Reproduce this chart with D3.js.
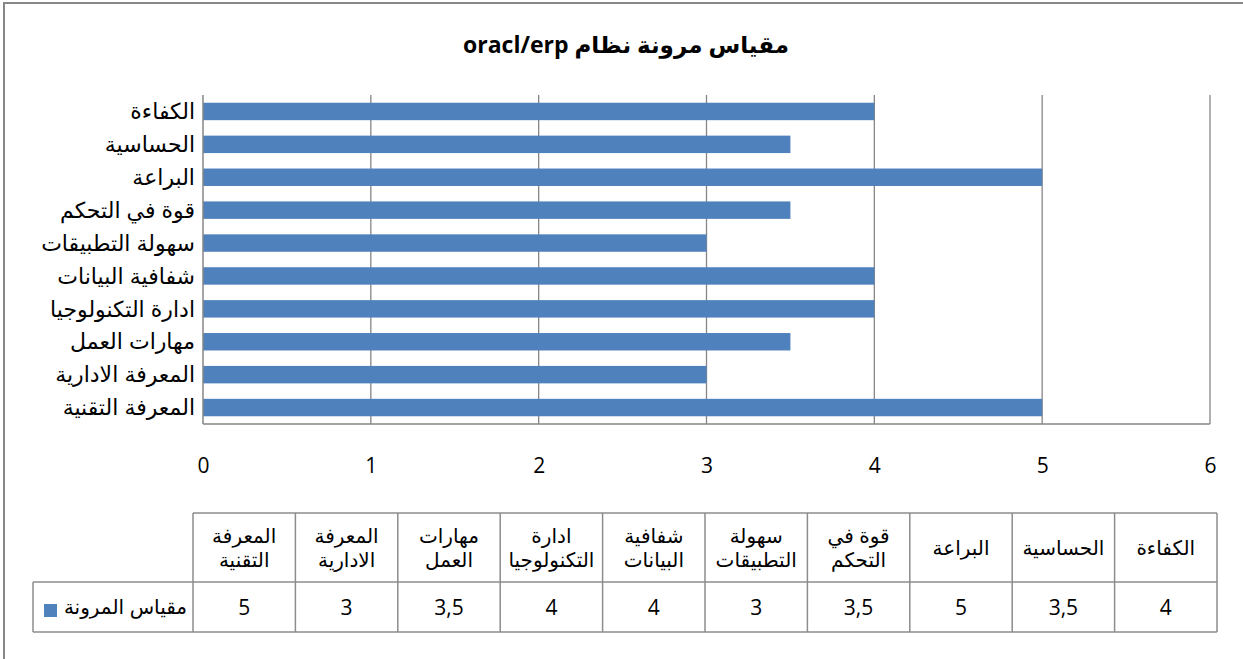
<!DOCTYPE html>
<html><head><meta charset="utf-8">
<script src="https://cdn.jsdelivr.net/npm/d3@7"></script>
<style>body{margin:0;background:#fff}svg{display:block}</style>
</head><body><svg id="c" width="1243" height="659"></svg>
<script>
const title = "مقياس مرونة نظام oracl/erp";
const seriesName = "مقياس المرونة";
const categories = ["المعرفة التقنية","المعرفة الادارية","مهارات العمل","ادارة التكنولوجيا","شفافية البيانات","سهولة التطبيقات","قوة في التحكم","البراعة","الحساسية","الكفاءة"];
const values = [5,3,3.5,4,4,3,3.5,5,3.5,4];
const xTicks = [0,1,2,3,4,5,6];

const svg = d3.select("#c");
const barColor = "#4F81BD", gridColor = "#868686";
const fontLat = "'Liberation Sans', Arial, 'DejaVu Sans', sans-serif";
const fontNum = "'Open Sans', 'Liberation Sans', 'DejaVu Sans', sans-serif";

// outer frame
svg.append("rect").attr("x",4).attr("y",3).attr("width",1260).attr("height",680)
  .attr("fill","#fff").attr("stroke","#888").attr("stroke-width",2);

svg.append("text").attr("x",626).attr("y",53).attr("text-anchor","middle")
  .attr("direction","rtl").attr("font-family",fontNum).attr("font-weight","bold")
  .attr("font-size",23).attr("fill","#000").text(title);

const plot = {l:203, r:1210, t:95, b:424};
const x = d3.scaleLinear().domain([0,6]).range([plot.l, plot.r]);
const yCats = categories.slice().reverse();
const y = d3.scaleBand().domain(yCats).range([plot.t, plot.b]).paddingInner(0.47).paddingOuter(0.235);

// gridlines
svg.append("g").selectAll("line").data(xTicks.slice(1)).join("line")
  .attr("x1",d=>x(d)).attr("x2",d=>x(d)).attr("y1",plot.t).attr("y2",plot.b)
  .attr("stroke",gridColor).attr("stroke-width",1.3);

// bars
svg.append("g").selectAll("rect").data(categories).join("rect")
  .attr("x",x(0)).attr("y",d=>y(d)).attr("height",y.bandwidth())
  .attr("width",(d,i)=>x(values[i])-x(0)).attr("fill",barColor);

// axes lines
svg.append("line").attr("x1",plot.l).attr("x2",plot.l).attr("y1",plot.t).attr("y2",plot.b)
  .attr("stroke",gridColor).attr("stroke-width",1.5);
svg.append("line").attr("x1",plot.l).attr("x2",plot.r).attr("y1",plot.b).attr("y2",plot.b)
  .attr("stroke",gridColor).attr("stroke-width",1.5);

// y labels
svg.append("g").selectAll("text").data(yCats).join("text")
  .attr("x",195).attr("y",d=>y(d)+y.bandwidth()/2).attr("dy","0.35em")
  .attr("text-anchor","end").attr("font-family",fontLat).attr("font-size",22).attr("fill","#000")
  .text(d=>d);

// x tick labels
const xAxis = d3.axisBottom(x).tickValues(xTicks).tickSize(0).tickPadding(0).tickFormat(d3.format("d"));
const gx = svg.append("g").attr("transform",`translate(0,${plot.b+34})`).call(xAxis);
gx.select(".domain").remove();
gx.selectAll("text").attr("font-family",fontNum).attr("font-size",21).attr("fill","#000");

// data table
const tbl = {l:193, r:1217, t:513, m:582, b:632, legL:33};
const col = d3.scaleBand().domain(categories).range([tbl.l, tbl.r]);
const tg = svg.append("g");
function ln(x1,y1,x2,y2){tg.append("line").attr("x1",x1).attr("y1",y1).attr("x2",x2).attr("y2",y2).attr("stroke","#8c8c8c").attr("stroke-width",1.5);}
ln(tbl.l,tbl.t,tbl.r,tbl.t);
ln(tbl.legL,tbl.m,tbl.r,tbl.m);
ln(tbl.legL,tbl.b,tbl.r,tbl.b);
ln(tbl.legL,tbl.m,tbl.legL,tbl.b);
categories.forEach(c=>ln(col(c),tbl.t,col(c),tbl.b));
ln(tbl.r,tbl.t,tbl.r,tbl.b);

// header texts
categories.forEach((c,i)=>{
  const words = c.split(" ");
  const lines = words.length>1 ? [words.slice(0,-1).join(" "), words[words.length-1]] : [c];
  const cx = col(c)+col.bandwidth()/2;
  const cy = (tbl.t+tbl.m)/2;
  const lh = 24;
  const t = tg.append("text").attr("text-anchor","middle").attr("font-family",fontLat)
    .attr("font-size",20).attr("fill","#000");
  lines.forEach((l,j)=>{
    t.append("tspan").attr("x",cx).attr("y",cy + (j-(lines.length-1)/2)*lh).attr("dy","0.35em").text(l);
  });
});
// values
const fmt = v => String(v).replace(".",",");
tg.selectAll("text.v").data(categories).join("text").attr("class","v")
  .attr("x",d=>col(d)+col.bandwidth()/2).attr("y",(tbl.m+tbl.b)/2).attr("dy","0.36em")
  .attr("text-anchor","middle").attr("font-family",fontNum).attr("font-size",21).attr("fill","#000")
  .text((d,i)=>fmt(values[i]));
// legend
tg.append("rect").attr("x",44).attr("y",604).attr("width",13).attr("height",13).attr("fill",barColor);
tg.append("text").attr("x",187).attr("y",(tbl.m+tbl.b)/2).attr("dy","0.35em").attr("text-anchor","end")
  .attr("font-family",fontLat).attr("font-size",20).attr("fill","#000").text(seriesName);
</script></body></html>
